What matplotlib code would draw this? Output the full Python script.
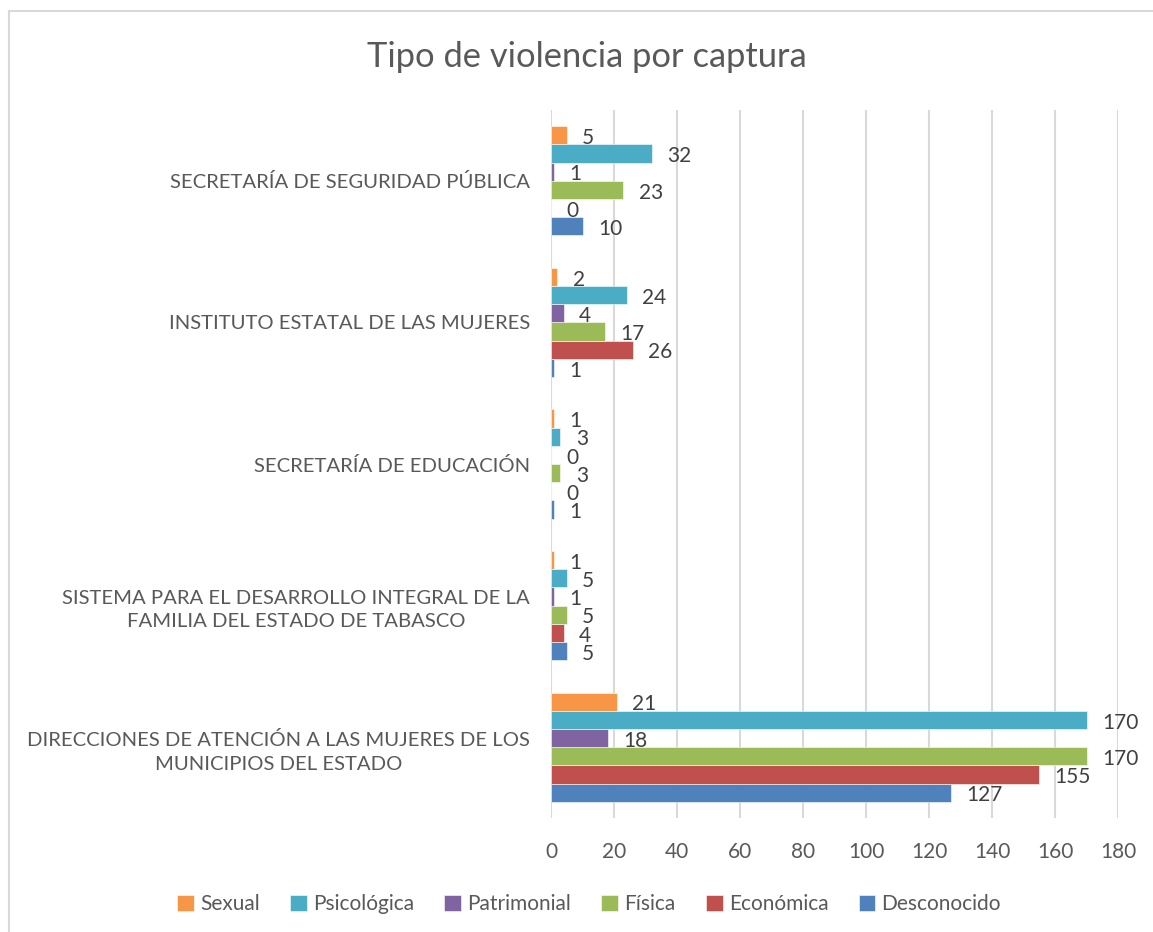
import matplotlib.pyplot as plt
import numpy as np

plt.rcParams['font.family'] = ['Lato', 'DejaVu Sans']

# Categories (bottom to top)
categories = [
    'DIRECCIONES DE ATENCIÓN A LAS MUJERES DE LOS\nMUNICIPIOS DEL ESTADO',
    'SISTEMA PARA EL DESARROLLO INTEGRAL DE LA\nFAMILIA DEL ESTADO DE TABASCO',
    'SECRETARÍA DE EDUCACIÓN',
    'INSTITUTO ESTATAL DE LAS MUJERES',
    'SECRETARÍA DE SEGURIDAD PÚBLICA',
]

# Series values, one per category (same order as categories)
desconocido = [127, 5, 1, 1, 10]
economica = [155, 4, 0, 26, 0]
fisica = [170, 5, 3, 17, 23]
patrimonial = [18, 1, 0, 4, 1]
psicologica = [170, 5, 3, 24, 32]
sexual = [21, 1, 1, 2, 5]

series_names = ['Desconocido', 'Económica', 'Física', 'Patrimonial', 'Psicológica', 'Sexual']
series_values = [desconocido, economica, fisica, patrimonial, psicologica, sexual]
colors = ['#4F81BD', '#C0504D', '#9BBB59', '#8064A2', '#4BACC6', '#F79646']

fig = plt.figure(figsize=(11.53, 9.32), dpi=100)
ax = fig.add_axes([551 / 1153, 1 - 818 / 932, (1118 - 551) / 1153, (818 - 110) / 932])

y = np.arange(len(categories))
h = 0.1285
for j, (name, vals, col) in enumerate(zip(series_names, series_values, colors)):
    pos = y + (j - 2.5) * h
    ax.barh(pos, vals, height=h, color=col, label=name, edgecolor='white', linewidth=0.4)
    # value labels, slightly below the bar centre like Excel does
    for v, p in zip(vals, pos):
        ax.annotate(str(v), xy=(v, p), xytext=(11, -2), textcoords='offset points',
                    va='center', ha='left', fontsize=15, color='#404040')

ax.set_xlim(0, 180)
ax.set_ylim(-0.5, 4.5)
ax.set_xticks(np.arange(0, 181, 20))
ax.set_yticks(y)
ax.set_yticklabels(categories, multialignment='center', linespacing=1.45)
ax.tick_params(axis='both', length=0, labelcolor='#595959')
ax.tick_params(axis='x', pad=17, labelsize=15)
ax.tick_params(axis='y', pad=15, labelsize=14.6)
ax.grid(axis='x', color='#D9D9D9', linewidth=1.5)
ax.set_axisbelow(True)
for s in ax.spines.values():
    s.set_visible(False)

fig.text(0.509, 1 - 57 / 932, 'Tipo de violencia por captura', ha='center', va='center',
         fontsize=24.8, color='#595959')

handles, labels = ax.get_legend_handles_labels()
fig.legend(handles[::-1], labels[::-1], loc='center', bbox_to_anchor=(0.511, 1 - 904 / 932),
           ncol=6, frameon=False, fontsize=15, labelcolor='#595959',
           handlelength=0.8, handleheight=0.8, handletextpad=0.3, columnspacing=1.45)

# chart border (cropped at right and bottom in the reference)
fig.add_artist(plt.Line2D([9 / 1153, 9 / 1153], [0, 1 - 11 / 932], color='#D9D9D9', linewidth=1.5))
fig.add_artist(plt.Line2D([9 / 1153, 1], [1 - 11 / 932, 1 - 11 / 932], color='#D9D9D9', linewidth=1.5))

fig.savefig('out.png', dpi=100)
